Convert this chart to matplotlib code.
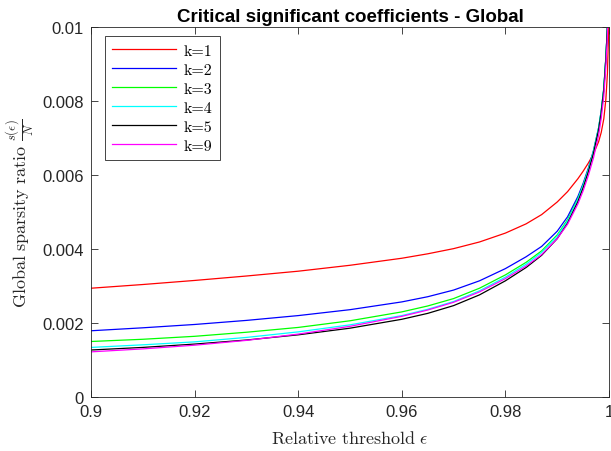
import matplotlib
matplotlib.use('Agg')
import matplotlib.pyplot as plt

# Relative threshold values (epsilon)
eps = [0.900, 0.910, 0.920, 0.930, 0.940, 0.950, 0.960, 0.965, 0.970,
       0.975, 0.980, 0.984, 0.987, 0.990, 0.992, 0.994, 0.995, 0.996,
       0.997, 0.998, 0.9985, 0.999, 0.9994, 0.9997, 1.000]

# Global sparsity ratio s(eps)/N, in units of 1e-3
k1 = [2.94, 3.04, 3.15, 3.27, 3.40, 3.56, 3.75, 3.87, 4.01,
      4.19, 4.43, 4.68, 4.93, 5.27, 5.55, 5.90, 6.10, 6.32,
      6.57, 6.90, 7.15, 7.52, 8.05, 8.75, 10.2]
k2 = [1.79, 1.87, 1.96, 2.07, 2.20, 2.36, 2.57, 2.71, 2.89,
      3.14, 3.47, 3.79, 4.07, 4.48, 4.87, 5.42, 5.77, 6.18,
      6.66, 7.28, 7.73, 8.34, 9.18, 10.02, 12.0]
k3 = [1.50, 1.56, 1.64, 1.75, 1.88, 2.06, 2.30, 2.46, 2.66,
      2.94, 3.30, 3.64, 3.95, 4.38, 4.79, 5.36, 5.72, 6.14,
      6.63, 7.26, 7.72, 8.33, 9.17, 10.02, 12.0]
k4 = [1.34, 1.41, 1.49, 1.61, 1.76, 1.95, 2.20, 2.37, 2.58,
      2.87, 3.24, 3.59, 3.91, 4.35, 4.76, 5.34, 5.71, 6.13,
      6.63, 7.27, 7.73, 8.34, 9.19, 10.03, 12.0]
k5 = [1.27, 1.34, 1.43, 1.54, 1.68, 1.86, 2.10, 2.26, 2.47,
      2.76, 3.14, 3.50, 3.83, 4.28, 4.70, 5.28, 5.65, 6.08,
      6.58, 7.22, 7.68, 8.30, 9.15, 10.0, 12.0]
k9 = [1.22, 1.30, 1.40, 1.53, 1.70, 1.91, 2.18, 2.35, 2.56,
      2.84, 3.20, 3.54, 3.85, 4.28, 4.67, 5.22, 5.57, 5.98,
      6.46, 7.08, 7.53, 8.13, 8.95, 9.75, 12.0]

series = [('k=1', k1, '#ff0000'), ('k=2', k2, '#0000ff'),
          ('k=3', k3, '#00ff00'), ('k=4', k4, '#00ffff'),
          ('k=5', k5, '#000000'), ('k=9', k9, '#ff00ff')]

plt.rcParams['mathtext.fontset'] = 'cm'
plt.rcParams['font.family'] = ['Liberation Sans', 'DejaVu Sans']

axis_col = '#262626'

fig = plt.figure(figsize=(6.11, 4.52), dpi=100)
ax = fig.add_axes([0.149, 0.1195, 0.8477, 0.8185])

for label, vals, col in series:
    ax.plot(eps, [v * 1e-3 for v in vals], color=col, linewidth=0.9,
            label=label)

ax.set_xlim(0.9, 1.0)
ax.set_ylim(0, 0.01)
ax.set_xticks([0.9, 0.92, 0.94, 0.96, 0.98, 1.0])
ax.set_xticklabels(['0.9', '0.92', '0.94', '0.96', '0.98', '1'])
ax.set_yticks([0, 0.002, 0.004, 0.006, 0.008, 0.01])
ax.set_yticklabels(['0', '0.002', '0.004', '0.006', '0.008', '0.01'])

ax.tick_params(direction='in', top=True, right=True, length=5, width=0.6,
               labelsize=12, colors=axis_col, labelcolor=axis_col, pad=5)
for sp in ax.spines.values():
    sp.set_color(axis_col)
    sp.set_linewidth(0.6)

ax.set_title('Critical significant coefficients - Global', fontsize=13.5,
             fontweight='bold', pad=4)
ax.set_xlabel(r'$\mathrm{Relative\ threshold}\ \epsilon$', fontsize=13,
              color=axis_col, labelpad=8)
ax.set_ylabel(r'$\mathrm{Global\ sparsity\ ratio}\ \frac{s(\epsilon)}{N}$',
              fontsize=13, color=axis_col, labelpad=4)

leg = ax.legend(loc='upper left', bbox_to_anchor=(0.027, 0.975),
                prop={'family': 'cmr10', 'size': 11.5},
                handlelength=4.0, handletextpad=0.5, labelspacing=0.3,
                borderpad=0.45, borderaxespad=0, fancybox=False, framealpha=1)
leg.get_frame().set_edgecolor(axis_col)
leg.get_frame().set_linewidth(0.6)

fig.savefig('out.png', dpi=100)
